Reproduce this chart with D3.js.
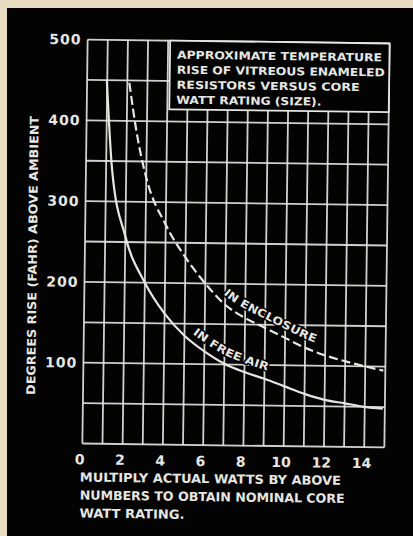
<!DOCTYPE html>
<html>
<head>
<meta charset="utf-8">
<script src="https://cdn.jsdelivr.net/npm/d3@7"></script>
<style>
  body { margin: 0; background: #000; }
  svg { display: block; }
</style>
</head>
<body>
<div class="chart"></div>
<script>
// chart data
var xTicks = [0, 2, 4, 6, 8, 10, 12, 14];
var yTicks = [100, 200, 300, 400, 500];

var freeAirX = [0.98, 1.3, 2.0, 3.0, 4.0, 5.0, 6.0, 7.0, 8.0, 9.0, 10, 11, 12, 13, 14, 14.9];
var freeAirY = [450, 339, 257, 200, 162, 135, 116, 101, 91, 83, 74, 65, 58, 54, 50, 48];

var enclosureX = [2.1, 2.5, 3.0, 4.0, 5.0, 6.0, 7.0, 8.0, 9.0, 10, 11, 12, 13, 14, 14.9];
var enclosureY = [447, 385, 330, 272, 232, 200, 174, 158, 146, 134, 122, 113, 106, 100, 95];

var titleLines = ["APPROXIMATE TEMPERATURE", "RISE OF VITREOUS ENAMELED",
                  "RESISTORS VERSUS CORE", "WATT RATING (SIZE)."];
var captionLines = ["MULTIPLY ACTUAL WATTS BY ABOVE", "NUMBERS TO OBTAIN NOMINAL CORE",
                    "WATT RATING."];
var yTitle = "DEGREES RISE (FAHR) ABOVE AMBIENT";

var svgWidth = 413, svgHeight = 536;
var margin = { top: 41.5, bottom: 90.5, left: 85, right: 26 };
var width = svgWidth - margin.left - margin.right;
var height = svgHeight - margin.top - margin.bottom;

var ink = "#e6e6e2";
var font = "'DejaVu Sans', sans-serif";

var svg = d3.select(".chart").append("svg")
  .attr("width", svgWidth)
  .attr("height", svgHeight);

// photo border + black card
svg.append("rect").attr("width", svgWidth).attr("height", svgHeight).attr("fill", "#e6dcc2");
svg.append("rect").attr("x", 7).attr("y", 8)
  .attr("width", svgWidth - 7).attr("height", svgHeight - 8).attr("fill", "#030303");

// the photo is slightly turned
var card = svg.append("g")
  .attr("transform", "rotate(0.75, 236, 243)");

var chartGroup = card.append("g")
  .attr("transform", `translate(${margin.left}, ${margin.top})`);

var xScale = d3.scaleLinear().domain([0, 15]).range([0, width]);
var yScale = d3.scaleLinear().domain([0, 500]).range([height, 0]);

// grid
chartGroup.append("g")
  .selectAll("line")
  .data(d3.range(0, 16))
  .enter()
  .append("line")
  .attr("x1", d => xScale(d)).attr("x2", d => xScale(d))
  .attr("y1", 0).attr("y2", height)
  .attr("stroke", ink).attr("stroke-width", 1.8).attr("opacity", 0.9);

chartGroup.append("g")
  .selectAll("line")
  .data(d3.range(0, 501, 50))
  .enter()
  .append("line")
  .attr("x1", 0).attr("x2", width)
  .attr("y1", d => yScale(d)).attr("y2", d => yScale(d))
  .attr("stroke", ink).attr("stroke-width", 1.8).attr("opacity", 0.9);

// title box
var boxX = xScale(4.1), boxY = yScale(500), boxBottom = yScale(415);
chartGroup.append("rect")
  .attr("x", boxX).attr("y", boxY)
  .attr("width", xScale(15) - boxX).attr("height", boxBottom - boxY)
  .attr("fill", "#030303").attr("stroke", ink).attr("stroke-width", 1.8);

var titleWidths = [205, 208, 183, 145];
chartGroup.append("g")
  .selectAll("text")
  .data(titleLines)
  .enter()
  .append("text")
  .attr("x", boxX + 7)
  .attr("y", (d, i) => boxY + 18 + i * 15)
  .attr("textLength", (d, i) => titleWidths[i])
  .attr("lengthAdjust", "spacingAndGlyphs")
  .attr("font-family", font).attr("font-weight", "bold").attr("font-size", "11px")
  .attr("fill", ink)
  .text(d => d);

// curves
var lineGen = d3.line()
  .x(d => xScale(d[0]))
  .y(d => yScale(d[1]))
  .curve(d3.curveMonotoneX);

var freeAir = freeAirX.map((v, i) => [v, freeAirY[i]]);
var enclosure = enclosureX.map((v, i) => [v, enclosureY[i]]);

chartGroup.append("path")
  .attr("d", lineGen(freeAir))
  .attr("fill", "none").attr("stroke", ink).attr("stroke-width", 2.2);

chartGroup.append("path")
  .attr("d", lineGen(enclosure))
  .attr("fill", "none").attr("stroke", ink).attr("stroke-width", 2.2)
  .attr("stroke-dasharray", "9,4");

// curve labels follow the curve, a little above it
function curveLabel(id, data, lift, startX, text, len) {
  var offsetLine = d3.line()
    .x(d => xScale(d[0]))
    .y(d => yScale(d[1]) - lift)
    .curve(d3.curveMonotoneX);
  var p = chartGroup.append("path")
    .attr("id", id)
    .attr("d", offsetLine(data))
    .attr("fill", "none");
  var node = p.node();
  var total = node.getTotalLength();
  var lo = 0, hi = total, target = xScale(startX);
  for (var k = 0; k < 40; k++) {
    var mid = (lo + hi) / 2;
    if (node.getPointAtLength(mid).x < target) lo = mid; else hi = mid;
  }
  chartGroup.append("text")
    .attr("font-family", font).attr("font-weight", "bold").attr("font-size", "11px")
    .attr("fill", ink)
    .attr("stroke", "#030303").attr("stroke-width", 3).attr("paint-order", "stroke")
    .append("textPath")
    .attr("href", "#" + id)
    .attr("startOffset", lo)
    .attr("textLength", len)
    .attr("lengthAdjust", "spacingAndGlyphs")
    .text(text);
}
curveLabel("encl-path", enclosure, 9, 6.9, "IN ENCLOSURE", 104);
curveLabel("free-path", freeAir, 9, 5.4, "IN FREE AIR", 84);

// axes
var xAxis = d3.axisBottom(xScale).tickValues(xTicks).tickSize(0).tickPadding(11);
var yAxis = d3.axisLeft(yScale).tickValues(yTicks).tickSize(0).tickPadding(6);

var gx = chartGroup.append("g")
  .attr("transform", `translate(0, ${height})`)
  .call(xAxis);
var gy = chartGroup.append("g").call(yAxis);

[gx, gy].forEach(function(g) {
  g.select(".domain").remove();
  g.selectAll("text")
    .attr("fill", ink)
    .attr("font-family", font)
    .attr("font-weight", "bold")
    .attr("font-size", "14px");
});
gx.selectAll("text").attr("dx", "-3px");
gy.selectAll("text").attr("letter-spacing", "1px");

// axis titles
chartGroup.append("text")
  .attr("transform", `translate(${-48}, ${yScale(232)}) rotate(-90)`)
  .attr("text-anchor", "middle")
  .attr("textLength", 279)
  .attr("lengthAdjust", "spacingAndGlyphs")
  .attr("font-family", font).attr("font-weight", "bold").attr("font-size", "12px")
  .attr("fill", ink)
  .text(yTitle);

var capWidths = [261, 265, 105];
chartGroup.append("g")
  .selectAll("text")
  .data(captionLines)
  .enter()
  .append("text")
  .attr("x", -2)
  .attr("y", (d, i) => height + 38 + i * 18)
  .attr("textLength", (d, i) => capWidths[i])
  .attr("lengthAdjust", "spacingAndGlyphs")
  .attr("font-family", font).attr("font-weight", "bold").attr("font-size", "12.5px")
  .attr("fill", ink)
  .text(d => d);
</script>
</body>
</html>
